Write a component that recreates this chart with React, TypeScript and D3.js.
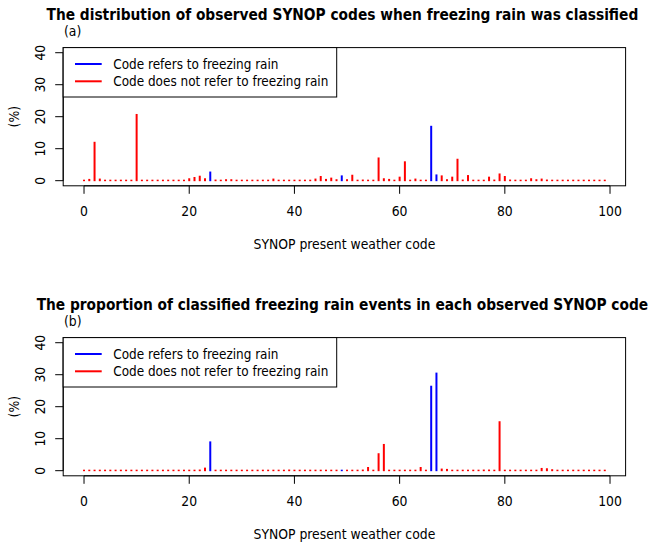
import React from "react";
import * as d3 from "d3";

// SYNOP codes 0..99
const codes: number[] = Array.from({ length: 100 }, (_, i) => i);

// Codes that refer to freezing rain (drawn blue)
const refersCodes: number[] = [24, 49, 66, 67];

// (a) distribution of observed SYNOP codes when freezing rain was classified (%)
const distValues: number[] = [
  0, 0.4, 12.0, 0.5, 0, 0, 0, 0, 0, 0,
  20.7, 0, 0, 0, 0, 0, 0, 0, 0, 0,
  0.6, 1.0, 1.4, 0.6, 2.7, 0.2, 0, 0.3, 0.3, 0,
  0, 0, 0, 0, 0, 0, 0.5, 0, 0, 0,
  0, 0, 0, 0, 0.5, 1.3, 0.4, 0.8, 0.3, 1.5,
  0.3, 1.7, 0.1, 0.2, 0, 0, 7.1, 0.6, 0.4, 0.1,
  1.1, 5.9, 0, 0.5, 0, 0, 17.0, 1.8, 1.5, 0.3,
  1.1, 6.7, 0.2, 1.6, 0, 0, 0.1, 1.1, 0.2, 2.1,
  1.3, 0.2, 0, 0, 0, 0.6, 0.3, 0.5, 0.2, 0,
  0, 0, 0, 0, 0, 0, 0, 0, 0, 0,
];

// (b) proportion of classified freezing rain events in each observed SYNOP code (%)
const propValues: number[] = [
  0, 0, 0, 0, 0, 0, 0, 0, 0, 0,
  0, 0, 0, 0, 0, 0, 0, 0, 0.1, 0,
  0, 0, 0.2, 0.8, 9.0, 0, 0, 0, 0, 0,
  0, 0, 0, 0, 0, 0, 0.1, 0, 0, 0.2,
  0, 0, 0, 0, 0, 0, 0, 0, 0, 0.1,
  0, 0, 0, 0.2, 1.0, 0, 5.3, 8.2, 0, 0,
  0, 0, 0, 0, 1.0, 0, 26.4, 30.5, 0.5, 0.4,
  0, 0, 0, 0, 0, 0, 0.2, 0.2, 0, 15.3,
  0, 0, 0, 0, 0, 0, 0, 0.7, 0.6, 0.3,
  0, 0, 0, 0, 0, 0, 0, 0, 0, 0,
];

const xTicks: number[] = [0, 20, 40, 60, 80, 100];
const yTicks: number[] = [0, 10, 20, 30, 40];

const titleA = "The distribution of observed SYNOP codes when freezing rain was classified";
const titleB = "The proportion of classified freezing rain events in each observed SYNOP code";
const xLabel = "SYNOP present weather code";
const yLabel = "(%)";
const legendLabels: string[] = ["Code refers to freezing rain", "Code does not refer to freezing rain"];
const legendColors: string[] = ["#0000ff", "#ff0000"];

const FONT = "'DejaVu Sans Condensed', 'DejaVu Sans', sans-serif";
const FS = 13.8;
const LFS = 13.4;

function Panel({ values, title, tag, offsetY }: { values: number[]; title: string; tag: string; offsetY: number }) {
  const x = d3.scaleLinear().domain([-3.96, 102.96]).range([63.2, 625.6]);
  const y = d3.scaleLinear().domain([-1.6, 41.6]).range([185.8, 47.6]);
  const left = x.range()[0];
  const right = x.range()[1];
  const top = y.range()[1];
  const bottom = y.range()[0];
  const y0 = y(0);
  return (
    <g transform={`translate(0,${offsetY})`} fontFamily={FONT}>
      <text x={(left + right) / 2 - 2} y={19.5} textAnchor="middle" fontWeight="bold" fontSize={15.3}>
        {title}
      </text>
      <text x={64} y={36} fontSize={FS}>{tag}</text>
      {/* bars */}
      {codes.map((c, i) => {
        const v = values[i];
        const yt = Math.min(y(v) - 0.5, y0 - 1);
        return (
          <line
            key={c}
            x1={x(c)}
            x2={x(c)}
            y1={y0 + 0.5}
            y2={yt}
            stroke={refersCodes.includes(c) ? legendColors[0] : legendColors[1]}
            strokeWidth={2}
          />
        );
      })}
      {/* box */}
      <rect x={left} y={top} width={right - left} height={bottom - top} fill="none" stroke="#000" strokeWidth={1} />
      {/* x axis */}
      <line x1={x(xTicks[0])} x2={x(xTicks[xTicks.length - 1])} y1={bottom} y2={bottom} stroke="#000" />
      {xTicks.map((t) => (
        <g key={t}>
          <line x1={x(t)} x2={x(t)} y1={bottom} y2={bottom + 8} stroke="#000" />
          <text x={x(t)} y={215.5} textAnchor="middle" fontSize={FS}>{t}</text>
        </g>
      ))}
      <text x={(left + right) / 2} y={248.5} textAnchor="middle" fontSize={FS}>{xLabel}</text>
      {/* y axis */}
      <line x1={left} x2={left} y1={y(0)} y2={y(40)} stroke="#000" />
      {yTicks.map((t) => (
        <g key={t}>
          <line x1={left - 8} x2={left} y1={y(t)} y2={y(t)} stroke="#000" />
          <text transform={`translate(45,${y(t)}) rotate(-90)`} textAnchor="middle" fontSize={FS}>{t}</text>
        </g>
      ))}
      <text transform={`translate(19,${(top + bottom) / 2}) rotate(-90)`} textAnchor="middle" fontSize={FS}>{yLabel}</text>
      {/* legend */}
      <rect x={left} y={top} width={336.7 - left} height={97 - top} fill="#fff" stroke="#000" />
      {legendLabels.map((lab, i) => (
        <g key={lab}>
          <line x1={75} x2={101.7} y1={64 + i * 17.3} y2={64 + i * 17.3} stroke={legendColors[i]} strokeWidth={2} />
          <text x={113.3} y={68.8 + i * 17.3} fontSize={LFS}>{lab}</text>
        </g>
      ))}
    </g>
  );
}

export default function App() {
  return (
    <svg width={651} height={545} style={{ position: "absolute", left: 0, top: 0, background: "#fff" }}>
      <rect width={651} height={545} fill="#fff" />
      <Panel values={distValues} title={titleA} tag="(a)" offsetY={0} />
      <Panel values={propValues} title={titleB} tag="(b)" offsetY={290} />
    </svg>
  );
}
